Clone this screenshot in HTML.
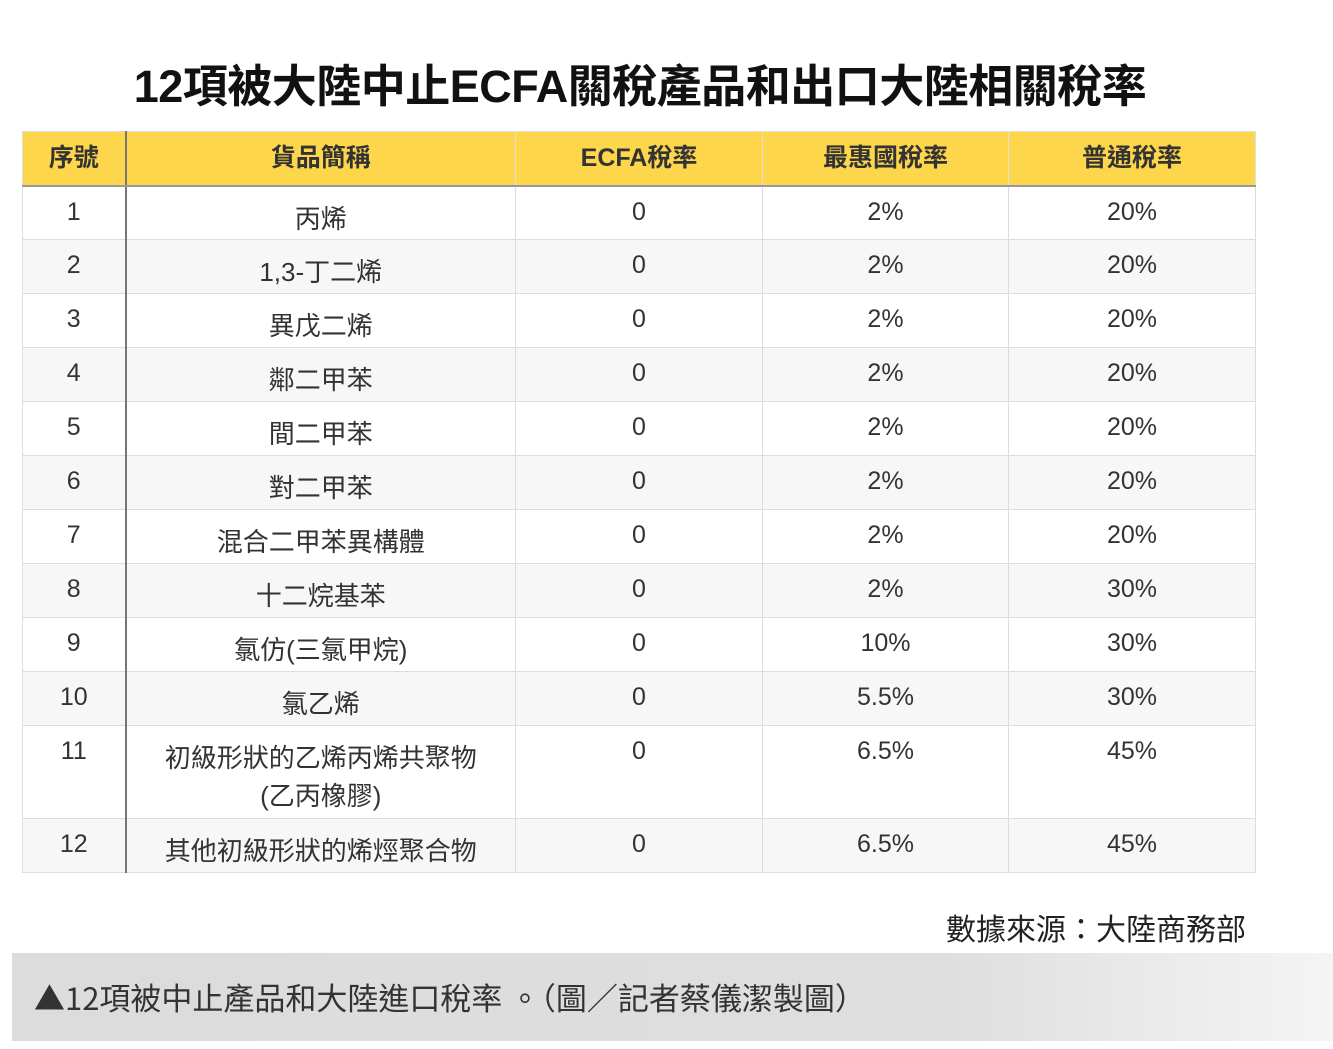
<!DOCTYPE html>
<html><head><meta charset="utf-8"><style>
body{margin:0;width:1333px;height:1049px;background:#fff;position:relative;overflow:hidden;font-family:"Liberation Sans","Noto Sans CJK TC",sans-serif;color:#333}
#title{position:absolute;left:0;width:1280px;top:50px;text-align:center;font-size:45px;font-weight:bold;color:#111;letter-spacing:-0.5px}
table{position:absolute;left:22px;top:131px;border-collapse:collapse;table-layout:fixed;width:1233px}
td,th{border:1px solid #ddd;text-align:center;vertical-align:top;font-size:25px;padding:10px 0 0 0;line-height:30px;color:#333;box-sizing:border-box}
th{background:#fdd64b;height:54px;font-weight:bold;border-bottom:2px solid #999;padding:11px 0 0}
tr.r td{height:54px}
tr:nth-child(even) td{background:#f7f7f7}
td:first-child,th:first-child{border-right:2px solid #777}
td:nth-child(2){padding-top:13px;font-size:26px;line-height:38px}
#src{position:absolute;right:87px;top:905px;font-size:30px;color:#222}
#cap{position:absolute;left:12px;top:953px;width:1321px;height:88px;background:linear-gradient(90deg,#dcdcdc 0%,#dedede 70%,#f4f4f4 100%)}
#cap span{position:absolute;left:22px;top:24px;font-size:31px;color:#333;font-family:"Noto Sans CJK TC",sans-serif;line-height:40px}
</style></head><body>
<div id="title">12項被大陸中止ECFA關稅產品和出口大陸相關稅率</div>
<table>
<colgroup><col style="width:103px"><col style="width:390px"><col style="width:247px"><col style="width:246px"><col style="width:247px"></colgroup>
<thead><tr><th>序號</th><th>貨品簡稱</th><th>ECFA稅率</th><th>最惠國稅率</th><th>普通稅率</th></tr></thead>
<tbody id="tb"></tbody></table>
<div id="src">數據來源：大陸商務部</div>
<div id="cap"><span>▲12項被中止產品和大陸進口稅率 。（圖／記者蔡儀潔製圖）</span></div>
<script>
const names=["丙烯","1,3-丁二烯","異戊二烯","鄰二甲苯","間二甲苯","對二甲苯","混合二甲苯異構體","十二烷基苯","氯仿(三氯甲烷)","氯乙烯","初級形狀的乙烯丙烯共聚物<br>(乙丙橡膠)","其他初級形狀的烯烴聚合物"];
const ecfa=["0","0","0","0","0","0","0","0","0","0","0","0"];
const mfn=["2%","2%","2%","2%","2%","2%","2%","2%","10%","5.5%","6.5%","6.5%"];
const gen=["20%","20%","20%","20%","20%","20%","20%","30%","30%","30%","45%","45%"];
const tb=document.getElementById('tb');
names.forEach((n,i)=>{
 const tr=document.createElement('tr');
 
 
 tr.innerHTML='<td>'+(i+1)+'</td><td>'+n+'</td><td>'+ecfa[i]+'</td><td>'+mfn[i]+'</td><td>'+gen[i]+'</td>';
 if(i!==10)tr.className='r';else tr.querySelectorAll('td').forEach(td=>td.style.height='93px');
 tb.appendChild(tr);
});
</script>
</body></html>
